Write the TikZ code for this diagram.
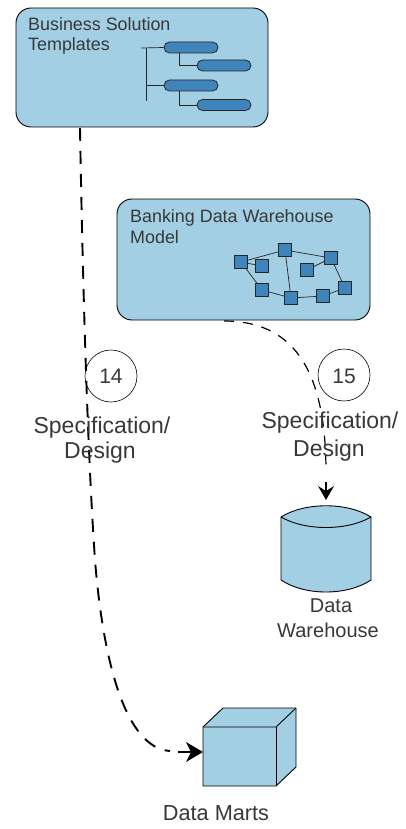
\documentclass[tikz,border=0pt]{standalone}
\usepackage{fontspec}
\setmainfont{Liberation Sans}
\usetikzlibrary{arrows.meta}
\definecolor{boxblue}{HTML}{A3CFE4}
\definecolor{itemblue}{HTML}{3F85BC}
\definecolor{txt}{HTML}{383838}
\tikzset{
  x=1pt,y=-1pt,
  panel/.style={draw=black,line width=0.9pt,fill=boxblue,rounded corners=15pt,minimum width=0pt,inner sep=0pt},
  pill/.style={draw=black!85,line width=0.8pt,fill=itemblue,rounded corners=5.5pt,minimum width=54pt,minimum height=11pt,inner sep=0pt},
  sq/.style={draw=black!85,line width=0.8pt,fill=itemblue,minimum size=13pt,inner sep=0pt},
  thin link/.style={draw=black!85,line width=0.7pt},
  big label/.style={font=\fontsize{23}{26}\selectfont,text=txt,anchor=base,inner sep=0pt},
  mid label/.style={font=\fontsize{20}{24}\selectfont,text=txt,anchor=base,inner sep=0pt},
  small label/.style={font=\fontsize{17.9}{21}\selectfont,text=txt,anchor=base west,inner sep=0pt},
  badge/.style={circle,draw=black,line width=0.6pt,minimum size=52pt,inner sep=0pt},
  solid part/.style={draw=black,line width=0.9pt,fill=boxblue,line join=round},
  flowA/.style={draw=black,line width=1.9pt,dash pattern=on 13pt off 10pt},
  flowB/.style={draw=black,line width=1.2pt,dash pattern=on 10pt off 9pt},
}
\begin{document}
\begin{tikzpicture}
\useasboundingbox (0,0) rectangle (406,829);
% panels
\node[panel,minimum width=252pt,minimum height=119pt] (bst) at (142,67.5) {};
\node[panel,minimum width=253pt,minimum height=121pt] (bdw) at (243.5,259.5) {};
\node[small label] at (28,31) {Business Solution};
\node[small label] at (28,51) {Templates};
\node[small label] at (130,222) {Banking Data Warehouse};
\node[small label] at (130,243) {Model};
% tree
\node[pill] (p1) at (191,47.5) {};
\node[pill] (p2) at (224,65.5) {};
\node[pill] (p3) at (191,85.5) {};
\node[pill] (p4) at (224,105) {};
\coordinate (stub) at (141,48);
\coordinate (trunkend) at (146.5,101);
\coordinate (trunktop) at (146.5,48);
\draw[thin link] (stub) -- (p1.west);
\draw[thin link] (trunktop) -- (trunkend);
\draw[thin link] (p3.west) -- (146.5,85.5);
\draw[thin link] (p1.south -| 179.5,0) -- (179.5,65.5) -- (p2.west);
\draw[thin link] (p3.south -| 179.5,0) -- (179.5,105) -- (p4.west);
% network
\node[sq] (a) at (241,262) {};
\node[sq] (b) at (262,266) {};
\node[sq] (c) at (285,250) {};
\node[sq] (d) at (307,270) {};
\node[sq] (e) at (331,258) {};
\node[sq] (f) at (345,288) {};
\node[sq] (g) at (323,296) {};
\node[sq] (h) at (291,298) {};
\node[sq] (i) at (262,290) {};
\foreach \p/\q in {a/b,a/c,a/i,c/h,c/e,d/e,e/f,f/g,g/h,h/i}
  \draw[thin link] (\p) -- (\q);
% data warehouse cylinder
\draw[solid part] (281,517) .. controls (305,502) and (347,502) .. (371,517)
  -- (371,580) .. controls (347,596) and (305,596) .. (281,580) -- cycle;
\draw[solid part,fill=none] (281,517) .. controls (305,531) and (347,531) .. (371,517);
\coordinate (dwtop) at (326,500);
% data marts cube
\draw[solid part] (203,727) -- (223,708) -- (296,708) -- (296,767) -- (276,786) -- (203,786) -- cycle;
\draw[solid part,fill=none] (203,727) -- (276,727) -- (296,708);
\draw[solid part,fill=none] (276,727) -- (276,786);
\coordinate (dmleft) at (203,752);
% connectors
\coordinate (a0) at (80,128);
\coordinate (b0) at (224,321);
\draw[flowA] (a0) .. controls (83,300) and (88,460) .. (95,560)
  .. controls (103,660) and (125,748) .. (170,751);
\draw[draw=none,fill=black] (dmleft) -- (186,742) -- (191,752) -- (186,762) -- cycle;
\draw[black,line width=1.9pt] (178,752) -- (192,752);
\draw[flowB] (b0) .. controls (290,321) and (326,365) .. (326,472);
\draw[draw=none,fill=black] (dwtop) -- (318,486) -- (326,491) -- (334,486) -- cycle;
\draw[black,line width=1.2pt] (326,482) -- (326,492);
% badges
\node[badge] (n14) at (111,376) {};
\node[badge] (n15) at (344,375) {};
\node[mid label,font=\fontsize{21}{24}\selectfont] at (111,383) {14};
\node[mid label,font=\fontsize{21}{24}\selectfont] at (344,383) {15};
\node[big label] at (102,433) {Specification/};
\node[big label] at (100,458) {Design};
\node[big label] at (330,428) {Specification/};
\node[big label] at (329,456) {Design};
\node[mid label] at (331,612) {Data};
\node[mid label] at (328,637) {Warehouse};
\node[mid label,font=\fontsize{21.7}{24}\selectfont] at (216,820) {Data Marts};
\end{tikzpicture}
\end{document}
